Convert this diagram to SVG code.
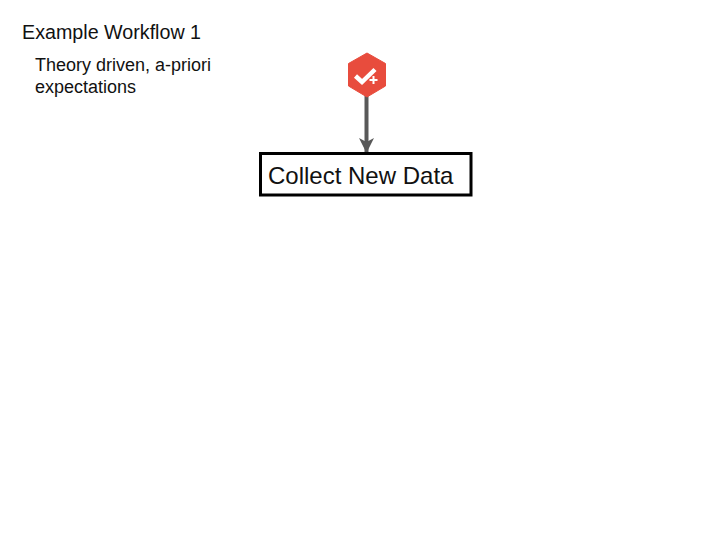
<svg xmlns="http://www.w3.org/2000/svg" width="720" height="540" viewBox="0 0 720 540">
<style>
text{font-family:"Liberation Sans",Arial,sans-serif;fill:#111}
.h{font-size:19.700px}
.s{font-size:18px}
.b{font-size:24px}
</style>
<defs>
<marker id="arrow" markerUnits="userSpaceOnUse" markerWidth="16" markerHeight="16" refX="15" refY="8" orient="auto">
<path d="M0 0.500L15 8L0 15.500L4 8Z" fill="#595959"/>
</marker>
</defs>
<rect width="720" height="540" fill="#fff"/>
<g id="title"><text class="h" x="22" y="38.500">Example Workflow 1</text></g>
<g id="subtitle"><text class="s" x="35" y="71">Theory driven, a-priori</text><text class="s" x="35" y="93">expectations</text></g>
<g id="connectors"><path d="M366.500 96V153" fill="none" stroke="#595959" stroke-width="4" marker-end="url(#arrow)"/></g>
<g id="icon">
<path d="M367 53L385.500 63.500V86L367 97L348.500 86V63.500Z" fill="#e84c3d" stroke="#e84c3d" stroke-width="1" stroke-linejoin="round"/>
<path d="M355.500 76L362 82L375 69.500" fill="none" stroke="#fff" stroke-width="4.500"/>
<path d="M369.500 80H377.500M373.500 76V84" fill="none" stroke="#fff" stroke-width="2"/>
</g>
<g id="collect-new-data">
<rect x="260.500" y="153.500" width="210.500" height="41.500" fill="#fff" stroke="#000" stroke-width="3"/>
<text class="b" x="268" y="184">Collect New Data</text>
</g>
</svg>
